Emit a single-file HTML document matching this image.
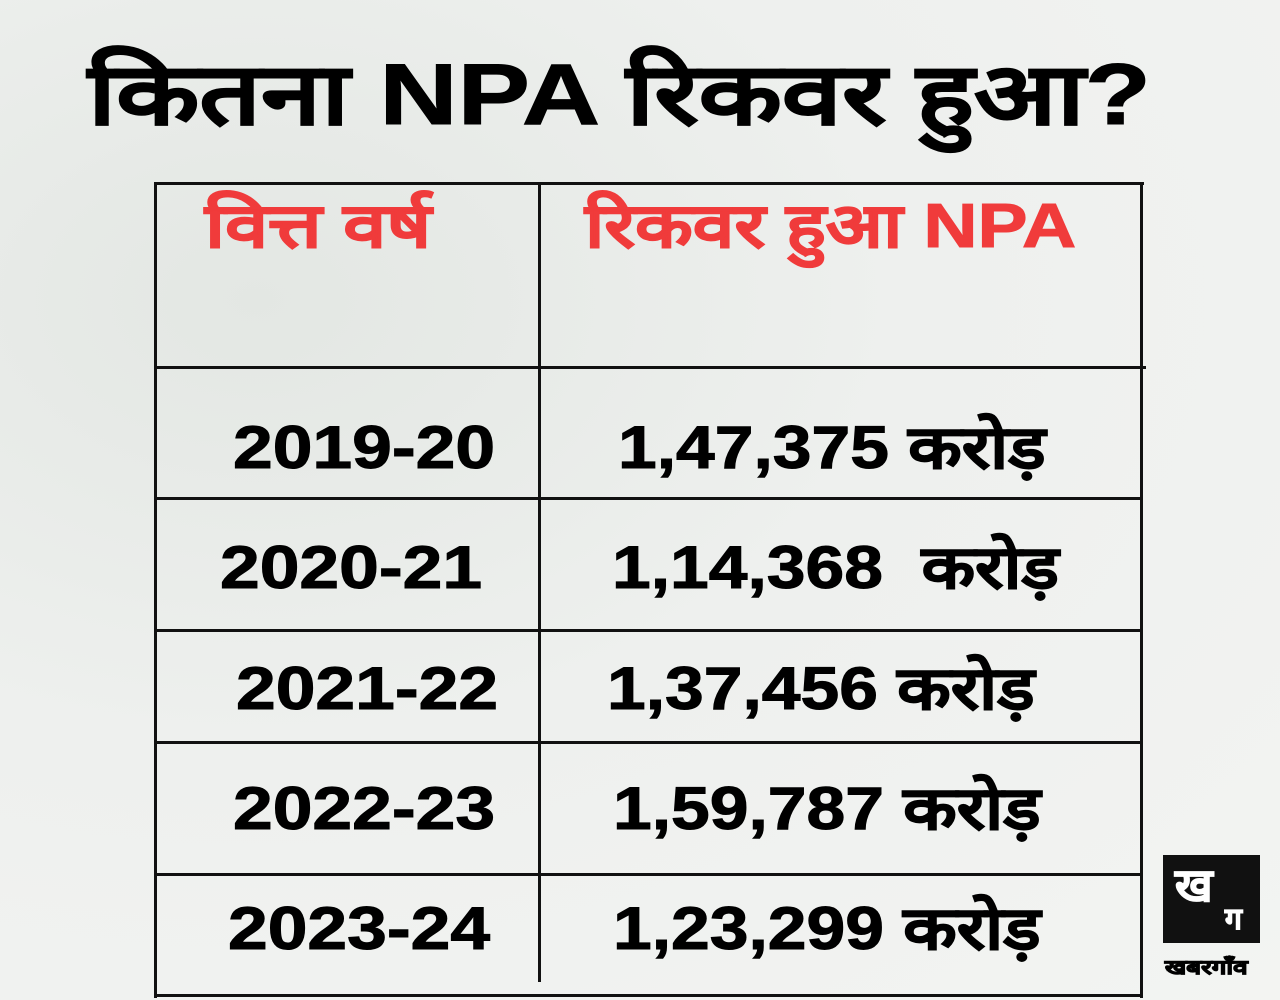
<!DOCTYPE html>
<html><head><meta charset="utf-8"><style>
html,body{margin:0;padding:0}
body{width:1280px;height:1000px;position:relative;overflow:hidden;
background:radial-gradient(ellipse at 20% 30%,#e3e7e3 0%,#eef0ee 45%,#f3f4f2 100%);
font-family:"Liberation Sans","DejaVu Sans",sans-serif;font-weight:bold}
.t{position:absolute;white-space:nowrap;line-height:1;transform-origin:0 0;-webkit-text-stroke:1px currentColor}
.h{position:absolute;background:#111}
</style></head><body>
<div class="t" style="left:88px;top:52px;font-size:86px;color:#000;transform:scaleX(1.26)">कितना NPA रिकवर हुआ?</div>
<div class="h" style="left:154px;top:182px;width:990px;height:3px"></div>
<div class="h" style="left:154px;top:182px;width:3px;height:816px"></div>
<div class="h" style="left:1140px;top:182px;width:3px;height:816px"></div>
<div class="h" style="left:538px;top:182px;width:3px;height:800px"></div>
<div class="h" style="left:154px;top:366px;width:992px;height:3px"></div>
<div class="h" style="left:154px;top:497px;width:988px;height:3px"></div>
<div class="h" style="left:154px;top:629px;width:988px;height:3px"></div>
<div class="h" style="left:154px;top:741px;width:988px;height:3px"></div>
<div class="h" style="left:154px;top:873px;width:988px;height:3px"></div>
<div class="h" style="left:154px;top:994px;width:988px;height:3px"></div>
<div class="t" style="left:205px;top:196px;font-size:62px;color:#f03b3b;transform:scaleX(1.25)">वित्त वर्ष</div>
<div class="t" style="left:585px;top:196px;font-size:62px;color:#f03b3b;transform:scaleX(1.21)">रिकवर हुआ NPA</div>
<div class="t" style="left:233px;top:418px;font-size:60px;transform:scaleX(1.19)">2019-20</div>
<div class="t" style="left:618px;top:418px;font-size:60px;transform:scaleX(1.16)">1,47,375 करोड़</div>
<div class="t" style="left:220px;top:538px;font-size:60px;transform:scaleX(1.19)">2020-21</div>
<div class="t" style="left:612px;top:538px;font-size:60px;transform:scaleX(1.16)">1,14,368&nbsp; करोड़</div>
<div class="t" style="left:236px;top:659px;font-size:60px;transform:scaleX(1.19)">2021-22</div>
<div class="t" style="left:607px;top:659px;font-size:60px;transform:scaleX(1.16)">1,37,456 करोड़</div>
<div class="t" style="left:233px;top:779px;font-size:60px;transform:scaleX(1.19)">2022-23</div>
<div class="t" style="left:613px;top:779px;font-size:60px;transform:scaleX(1.16)">1,59,787 करोड़</div>
<div class="t" style="left:228px;top:899px;font-size:60px;transform:scaleX(1.19)">2023-24</div>
<div class="t" style="left:613px;top:899px;font-size:60px;transform:scaleX(1.16)">1,23,299 करोड़</div>
<div class="h" style="left:1163px;top:855px;width:97px;height:88px"></div>
<div class="t" style="left:1175px;top:862px;font-size:46px;color:#fff">ख</div>
<div class="t" style="left:1225px;top:905px;font-size:30px;color:#fff">ग</div>
<div class="t" style="left:1165px;top:958px;font-size:20px;color:#000;transform:scaleX(1.3)">खबरगाँव</div>
</body></html>
